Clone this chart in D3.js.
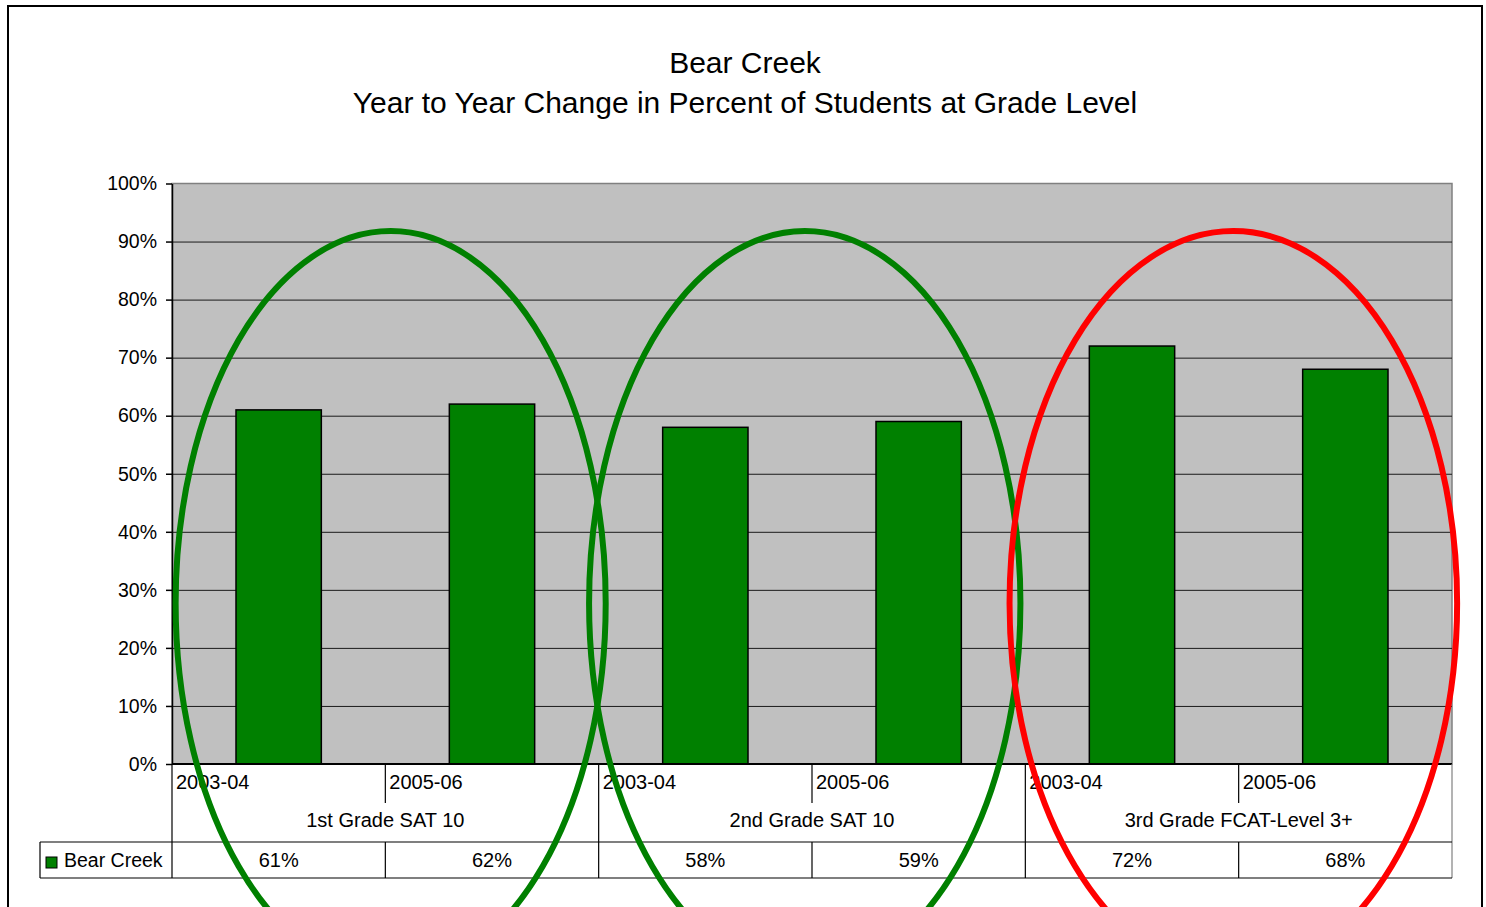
<!DOCTYPE html>
<html>
<head>
<meta charset="utf-8">
<script src="https://cdn.jsdelivr.net/npm/d3@7"></script>
<style>
  html, body { margin: 0; padding: 0; background: #ffffff; }
  svg { display: block; }
  text { font-family: "Liberation Sans", Arial, sans-serif; fill: #000; }
</style>
</head>
<body>
<div id="chart"></div>
<script>
// ---- data ----
const titleLines = ["Bear Creek", "Year to Year Change in Percent of Students at Grade Level"];
const categories = ["1st Grade SAT 10", "2nd Grade SAT 10", "3rd Grade FCAT-Level 3+"];
const years = ["2003-04", "2005-06"];
const seriesName = "Bear Creek";
const bearCreek = [61, 62, 58, 59, 72, 68];   // percent, in category/year order
const yTicks = [0, 10, 20, 30, 40, 50, 60, 70, 80, 90, 100];
const ringColors = ["#008000", "#008000", "#ff0000"];

// ---- layout ----
const W = 1486, H = 907;
const plot = { left: 172, right: 1452, top: 183.5, bottom: 764 };
const rowYears = 803, rowCats = 842, rowVals = 878;
const barFill = "#008000";
const tickFont = 19.5, tableFont = 20;

// rows of the category table: one entry per bar
const slots = [];
categories.forEach((c, ci) => years.forEach((yr, yi) => {
  slots.push({ key: c + "|" + yr, cat: c, year: yr, value: bearCreek[ci * years.length + yi] });
}));

const svg = d3.select("#chart").append("svg")
  .attr("width", W).attr("height", H);

// outer chart frame (bottom edge falls below the page)
svg.append("path")
  .attr("d", `M8,${H + 5} L8,6 L1482,6 L1482,${H + 5}`)
  .attr("fill", "none").attr("stroke", "#000").attr("stroke-width", 2);

// ---- scales ----
const xSlot = d3.scaleBand().domain(slots.map(d => d.key)).range([plot.left, plot.right]);
const xBar = d3.scaleBand().domain(slots.map(d => d.key)).range([plot.left, plot.right])
  .paddingInner(0.6).paddingOuter(0.3);
const xCat = d3.scaleBand().domain(categories).range([plot.left, plot.right]);
const y = d3.scaleLinear().domain([0, 100]).range([plot.bottom, plot.top]);

// ---- title ----
const title = svg.append("g").attr("text-anchor", "middle");
title.append("text").attr("x", 745).attr("y", 73).attr("font-size", 30).text(titleLines[0]);
title.append("text").attr("x", 745).attr("y", 113).attr("font-size", 30).text(titleLines[1]);

// ---- plot area ----
svg.append("rect")
  .attr("x", plot.left).attr("y", plot.top)
  .attr("width", plot.right - plot.left).attr("height", plot.bottom - plot.top)
  .attr("fill", "#c0c0c0").attr("stroke", "#808080").attr("stroke-width", 1.5);

// gridlines
const grid = svg.append("g")
  .attr("transform", `translate(${plot.left},0)`)
  .call(d3.axisLeft(y).tickValues(yTicks.filter(t => t > 0 && t < 100))
    .tickSize(-(plot.right - plot.left)).tickFormat(""));
grid.select(".domain").remove();
grid.selectAll(".tick line").attr("stroke", "#1a1a1a").attr("stroke-width", 1);

// bars
svg.append("g").selectAll("rect")
  .data(slots).join("rect")
  .attr("x", d => xBar(d.key))
  .attr("y", d => y(d.value))
  .attr("width", xBar.bandwidth())
  .attr("height", d => y(0) - y(d.value))
  .attr("fill", barFill)
  .attr("stroke", "#000").attr("stroke-width", 1.5);

// y axis
const yAxis = svg.append("g")
  .attr("transform", `translate(${plot.left},0)`)
  .call(d3.axisLeft(y).tickValues(yTicks).tickFormat(d => d + "%")
    .tickSize(6).tickSizeOuter(0).tickPadding(9));
yAxis.select(".domain").attr("stroke", "#000").attr("stroke-width", 1.5);
yAxis.selectAll(".tick line").attr("stroke", "#000").attr("stroke-width", 1.5);
yAxis.selectAll(".tick text")
  .attr("font-size", tickFont)
  .attr("font-family", "'Liberation Sans', Arial, sans-serif")
  .attr("fill", "#000");

// ---- category table ----
const table = svg.append("g").attr("stroke", "#000").attr("stroke-width", 1.2);

// x axis baseline
table.append("line")
  .attr("x1", plot.left).attr("x2", plot.right)
  .attr("y1", plot.bottom).attr("y2", plot.bottom)
  .attr("stroke-width", 2);

// category (group) boundaries run the full table height
const catEdges = categories.map(c => xCat(c)).concat([plot.right]);
table.selectAll("line.cat").data(catEdges).join("line").attr("class", "cat")
  .attr("x1", d => d).attr("x2", d => d)
  .attr("y1", plot.bottom).attr("y2", rowVals)
  .attr("stroke", (d, i) => i === catEdges.length - 1 ? "#808080" : "#000");

// year boundaries inside each category
const innerEdges = slots.filter((d, i) => i % years.length !== 0).map(d => xSlot(d.key));
table.selectAll("line.yr").data(innerEdges).join("line").attr("class", "yr")
  .attr("x1", d => d).attr("x2", d => d)
  .attr("y1", plot.bottom).attr("y2", rowYears);
table.selectAll("line.val").data(innerEdges).join("line").attr("class", "val")
  .attr("x1", d => d).attr("x2", d => d)
  .attr("y1", rowCats).attr("y2", rowVals);

// data-table row borders
const legendLeft = 40;
table.append("line").attr("x1", legendLeft).attr("x2", plot.right).attr("y1", rowCats).attr("y2", rowCats);
table.append("line").attr("x1", legendLeft).attr("x2", plot.right).attr("y1", rowVals).attr("y2", rowVals);
table.append("line").attr("x1", legendLeft).attr("x2", legendLeft).attr("y1", rowCats).attr("y2", rowVals);

// year labels
svg.append("g").selectAll("text")
  .data(slots).join("text")
  .attr("x", d => xSlot(d.key) + 4)
  .attr("y", 789)
  .attr("font-size", tableFont)
  .text(d => d.year);

// category labels
svg.append("g").selectAll("text")
  .data(categories).join("text")
  .attr("x", d => xCat(d) + xCat.bandwidth() / 2)
  .attr("y", 827)
  .attr("text-anchor", "middle")
  .attr("font-size", tableFont)
  .text(d => d);

// values row
svg.append("g").selectAll("text")
  .data(slots).join("text")
  .attr("x", d => xSlot(d.key) + xSlot.bandwidth() / 2)
  .attr("y", 867)
  .attr("text-anchor", "middle")
  .attr("font-size", tableFont)
  .text(d => d.value + "%");

// legend key
svg.append("rect")
  .attr("x", 46).attr("y", 857).attr("width", 11).attr("height", 11)
  .attr("fill", barFill).attr("stroke", "#000").attr("stroke-width", 1);
svg.append("text")
  .attr("x", 64).attr("y", 867)
  .attr("font-size", tickFont)
  .text(seriesName);

// ---- highlight rings around each category ----
// shift / radius in slot widths, centre and vertical radius in percent units
const ringShape = [
  { shift: 0.025, rx: 1.008 },
  { shift: -0.034, rx: 1.011 },
  { shift: -0.025, rx: 1.049 }
];
const ringCentre = 27.7, ringHalfHeight = 64.1;
const step = xSlot.step();
svg.append("g").selectAll("ellipse")
  .data(categories).join("ellipse")
  .attr("cx", (d, i) => xCat(d) + xCat.bandwidth() / 2 + ringShape[i].shift * step)
  .attr("cy", y(ringCentre))
  .attr("rx", (d, i) => ringShape[i].rx * step)
  .attr("ry", y(0) - y(ringHalfHeight))
  .attr("fill", "none")
  .attr("stroke", (d, i) => ringColors[i])
  .attr("stroke-width", 6);
</script>
</body>
</html>
